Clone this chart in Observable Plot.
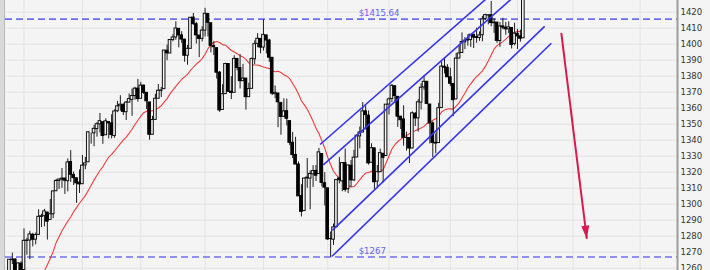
<!DOCTYPE html>
<html><head><meta charset="utf-8">
<script src="https://cdn.jsdelivr.net/npm/d3@7"></script>
<script src="https://cdn.jsdelivr.net/npm/@observablehq/plot@0.6"></script>
<style>
html,body{margin:0;padding:0;background:#f4f4f4;}
#wrap{position:relative;width:710px;height:270px;overflow:hidden;background:#f4f4f4;}
#wrap svg{display:block;}
#strip{position:absolute;left:0;top:0;width:4px;height:270px;background:#d9d9d9;border-right:1px solid #b9b9b9;z-index:2;}
</style></head><body><div id="wrap"><div id="strip"></div></div>
<script>
// Daily bars, 1 Dec 2011 .. 6 Sep 2012 (session 0 = 3 Jan 2012)
const firstSession = -21;
const open = [
1246.0,1246.0,1249.8,1257.2,1258.1,1260.9,1234.5,1255.1,1236.8,1225.7,1212.1,1216.1,1219.7,1205.7,1241.3,1243.7,1254.0,1265.0,1265.4,1249.8,1262.8,
1258.9,1277.0,1277.3,1280.9,1277.8,1280.8,1292.0,1292.5,1294.8,1290.2,1293.7,1308.1,1314.5,1315.3,1316.0,1314.4,1326.3,1318.3,1316.2,1313.5,
1312.5,1324.2,1326.2,1344.3,1344.3,1347.0,1349.9,1351.2,1343.1,1351.3,1350.5,1342.6,1358.1,1361.2,1362.1,1357.5,1363.5,1365.2,1367.6,1372.2,
1365.9,1374.1,1369.6,1363.6,1343.4,1352.7,1365.9,1370.8,1371.9,1395.9,1394.2,1402.6,1404.2,1409.6,1405.5,1402.9,1392.8,1397.1,1416.6,1412.5,1405.4,1403.3,
1408.5,1418.9,1413.1,1398.8,1397.5,1382.2,1358.9,1368.8,1387.6,1370.3,1369.6,1390.8,1385.1,1376.9,1378.5,1366.9,1372.1,1390.6,1400.2,1403.3,
1397.9,1405.5,1402.3,1391.5,1368.8,1369.2,1363.2,1354.6,1358.1,1351.9,1338.4,1330.8,1324.8,1305.1,1295.7,1316.1,1316.0,1318.7,1320.8,1318.9,1331.3,1313.1,
1309.9,1278.3,1277.8,1285.6,1316.1,1314.3,1325.7,1309.4,1324.0,1314.9,1329.2,1342.4,1344.8,1358.0,1355.4,1325.9,1334.9,1314.1,1320.0,1331.5,1330.1,
1362.3,1365.8,1373.7,1367.1,1354.7,1353.0,1341.4,1341.4,1334.8,1356.5,1353.7,1363.5,1373.0,1376.5,1362.3,1350.5,1338.4,1338.2,1360.1,1385.9,1385.3,
1379.3,1375.1,1365.5,1391.0,1394.5,1401.2,1402.3,1402.6,1405.9,1404.4,1403.9,1405.6,1415.8,1417.9,1418.1,1413.1,1413.5,1402.0,1411.1,1410.4,1409.3,1410.1,1400.1,
1406.5,1404.9,1403.7];
const high = [
1251.1,1260.1,1266.7,1266.0,1267.1,1260.9,1258.3,1255.1,1249.9,1225.7,1225.6,1231.0,1224.6,1242.8,1245.1,1255.2,1265.4,1269.4,1265.9,1263.5,1264.1,
1284.6,1278.7,1283.1,1281.8,1282.0,1296.5,1293.8,1296.8,1294.8,1303.0,1308.1,1315.5,1315.4,1322.3,1316.0,1328.3,1333.5,1320.1,1316.2,1321.4,
1330.5,1329.2,1345.3,1344.4,1349.2,1351.0,1356.7,1351.2,1353.4,1351.3,1355.9,1359.0,1364.2,1367.8,1362.7,1364.2,1368.9,1371.9,1373.1,1378.0,
1376.2,1374.5,1369.6,1363.6,1354.9,1368.7,1374.8,1373.0,1396.1,1399.4,1402.6,1405.9,1414.0,1409.6,1407.8,1402.9,1399.2,1416.6,1419.2,1413.7,1405.4,1410.9,
1422.4,1419.1,1413.1,1401.6,1397.5,1383.0,1374.7,1388.1,1387.6,1379.7,1392.8,1390.8,1393.5,1387.4,1378.5,1375.6,1391.4,1402.1,1406.6,1403.3,
1415.3,1405.5,1403.1,1391.5,1373.9,1369.2,1363.7,1365.9,1365.7,1351.9,1344.9,1341.8,1326.4,1312.2,1316.4,1328.5,1320.7,1324.1,1324.2,1334.9,1331.3,1319.7,
1309.9,1282.6,1287.6,1315.1,1329.1,1325.8,1334.5,1324.3,1327.3,1333.7,1343.3,1348.2,1363.5,1361.6,1358.3,1337.8,1334.9,1324.2,1334.4,1331.5,1362.2,
1366.4,1374.8,1373.9,1367.1,1354.9,1361.5,1345.0,1341.4,1357.7,1357.3,1365.4,1375.3,1380.4,1376.5,1362.3,1351.5,1344.0,1363.1,1389.2,1391.7,1387.2,
1385.0,1375.1,1394.2,1399.6,1407.1,1404.1,1405.9,1406.0,1405.9,1410.0,1407.7,1417.4,1418.7,1418.1,1426.7,1416.1,1413.5,1413.5,1416.2,1413.6,1414.0,1410.1,1413.1,
1409.3,1408.8,1432.1];
const low = [
1239.7,1243.4,1249.8,1253.0,1244.8,1231.5,1234.5,1227.3,1219.4,1209.5,1212.1,1215.2,1202.4,1205.7,1229.5,1243.7,1254.0,1262.3,1248.6,1249.8,1257.5,
1258.9,1268.1,1265.3,1273.3,1274.6,1280.8,1285.4,1285.8,1277.6,1290.2,1291.0,1308.1,1309.2,1309.9,1306.1,1307.7,1313.6,1311.7,1300.5,1306.7,
1312.5,1321.6,1326.2,1337.5,1335.9,1341.9,1344.5,1337.4,1343.1,1340.8,1340.8,1341.2,1357.2,1358.1,1355.5,1352.3,1363.5,1354.9,1365.0,1363.8,
1365.9,1368.6,1359.1,1340.0,1343.4,1352.7,1365.9,1366.7,1371.9,1389.7,1394.2,1401.5,1402.4,1397.7,1400.6,1388.7,1386.9,1397.1,1411.9,1400.1,1391.6,1401.4,
1404.5,1404.6,1394.6,1392.9,1378.2,1357.4,1358.9,1368.8,1369.9,1365.4,1369.6,1383.3,1372.0,1376.9,1358.8,1366.8,1372.1,1387.3,1397.8,1394.0,
1395.7,1393.9,1388.7,1367.9,1365.9,1347.8,1343.1,1354.6,1348.9,1336.6,1328.5,1324.8,1304.9,1292.0,1295.7,1310.0,1296.5,1310.5,1314.2,1318.9,1310.8,1298.9,
1277.3,1266.7,1274.2,1285.6,1312.7,1307.8,1307.5,1306.6,1310.5,1314.1,1329.2,1334.6,1344.8,1346.4,1324.4,1325.9,1309.3,1310.3,1320.0,1313.3,1330.1,
1355.7,1363.5,1363.0,1348.0,1346.7,1336.3,1333.2,1325.4,1334.8,1348.5,1345.1,1358.9,1371.2,1362.2,1337.6,1329.2,1331.5,1338.2,1360.1,1381.4,1379.2,
1373.6,1354.7,1365.5,1391.0,1394.5,1396.6,1398.8,1398.0,1397.3,1400.6,1401.8,1401.5,1414.7,1412.1,1410.9,1406.8,1400.5,1398.0,1409.1,1405.6,1406.6,1397.0,1399.0,
1396.6,1401.3,1403.7];
const close = [
1244.6,1244.3,1257.1,1258.5,1261.0,1234.4,1255.2,1236.5,1225.7,1211.8,1215.8,1219.7,1205.4,1241.3,1243.7,1254.0,1265.3,1265.4,1249.6,1263.0,1257.6,
1277.1,1277.3,1281.1,1277.8,1280.7,1292.1,1292.5,1295.5,1289.1,1293.7,1308.0,1314.5,1315.4,1316.0,1314.7,1326.1,1318.4,1316.3,1313.0,1312.4,
1324.1,1325.5,1344.9,1344.3,1347.1,1350.0,1351.9,1342.6,1351.8,1350.5,1343.2,1358.0,1361.2,1362.2,1357.7,1363.5,1365.7,1367.6,1372.2,1365.7,
1374.1,1369.6,1364.3,1343.4,1352.6,1365.9,1370.9,1371.1,1396.0,1394.3,1402.6,1404.2,1409.8,1405.5,1402.9,1392.8,1397.1,1416.5,1412.5,1405.5,1403.3,1408.5,
1419.0,1413.4,1399.0,1398.1,1382.2,1358.6,1368.7,1387.6,1370.3,1369.6,1390.8,1385.1,1376.9,1378.5,1366.9,1372.0,1390.7,1400.0,1403.4,1397.9,
1405.8,1402.3,1391.6,1369.1,1369.6,1363.7,1354.6,1358.0,1353.4,1338.4,1330.7,1324.8,1304.9,1295.2,1316.0,1316.6,1318.9,1320.7,1317.8,1332.4,1313.3,1310.3,
1278.0,1278.2,1285.5,1315.1,1315.0,1325.7,1308.9,1324.2,1314.9,1329.1,1342.8,1344.8,1358.0,1355.7,1325.5,1335.0,1313.7,1320.0,1331.9,1329.0,1362.2,
1365.5,1374.0,1367.6,1354.7,1352.5,1341.5,1341.5,1334.8,1356.8,1353.6,1363.7,1372.8,1376.5,1362.7,1350.5,1338.3,1337.9,1360.0,1386.0,1385.3,1379.3,
1375.3,1365.0,1391.0,1394.2,1401.4,1402.2,1402.8,1405.9,1404.1,1403.9,1405.5,1415.5,1418.2,1418.1,1413.2,1413.5,1402.1,1411.1,1410.4,1409.3,1410.5,1399.5,1406.6,
1404.9,1403.4,1432.1];

// first session of each month (Jan..Nov 2012)
const monthStarts = [0, 20, 40, 62, 82, 104, 125, 146, 169, 188, 211];
const yTicks = [1260,1270,1280,1290,1300,1310,1320,1330,1340,1350,1360,1370,1380,1390,1400,1410,1420];

// horizontal levels
const levelValues = [1415.64, 1267];
const levelLabels = ["$1415.64", "$1267"];
const levelLabelSession = 114.6;

// trend channel lines (session, price)
const chX1 = [101.4, 102.5, 105.6, 105.4];
const chY1 = [1337.3, 1324.6, 1283.6, 1267.3];
const chX2 = [165, 175, 178.3, 180.6];
const chY2 = [1439.1, 1441.3, 1411.1, 1400.6];

// forecast arrow (session, price)
const arrowFrom = [184.0, 1407.1];
const arrowTo = [192.75, 1278.4];

const xDomain = [-6.34, 223.8];
const yDomain = [1258.56, 1427.31];

const bars = close.map((c, k) => ({s: k + firstSession, o: open[k], h: high[k], l: low[k], c}));
const up = bars.filter(d => d.c >= d.o);
const down = bars.filter(d => d.c < d.o);
const levels = levelValues.map((v, k) => ({v, label: levelLabels[k]}));
const channels = chX1.map((x, k) => ({x1: x, y1: chY1[k], x2: chX2[k], y2: chY2[k]}));
const arrow = [{x1: arrowFrom[0], y1: arrowFrom[1], x2: arrowTo[0], y2: arrowTo[1]}];

const arrowHead = {draw(ctx) { ctx.moveTo(0, 0); ctx.lineTo(-4, -13); ctx.lineTo(4, -13); ctx.closePath(); }};

const bw = 0.45;
const chart = Plot.plot({
  width: 710, height: 270,
  marginLeft: 5, marginRight: 33, marginTop: 0, marginBottom: 0,
  style: {background: "transparent", fontFamily: "'DejaVu Sans Condensed','DejaVu Sans',sans-serif", fontSize: "9.5px", color: "#333"},
  x: {domain: xDomain, axis: null},
  y: {domain: yDomain, axis: "right", ticks: yTicks, tickSize: 0, tickPadding: 3, tickFormat: "d", label: null},
  marks: [
    Plot.ruleY(yTicks, {stroke: "#e3e3e3", strokeWidth: 1}),
    Plot.ruleX(monthStarts, {stroke: "#e3e3e3", strokeWidth: 1}),
    Plot.ruleY(levels, {y: "v", stroke: "#5e5ef3", strokeWidth: 1.7, strokeDasharray: "7,4", strokeOpacity: 0.9}),
    Plot.text(levels, {x: () => levelLabelSession, y: "v", text: "label", textAnchor: "start", dy: -6, fill: "#6464ee", fontSize: 9.5}),
    Plot.lineY(bars, Plot.windowY({k: 20, anchor: "end", reduce: "mean"}, {x: "s", y: "c", stroke: "#f23a3a", strokeWidth: 1.1, clip: true})),
    Plot.ruleX(bars, {x: "s", y1: "l", y2: "h", stroke: "#1e1e1e", strokeWidth: 1, clip: true}),
    Plot.rect(up, {x1: d => d.s - bw, x2: d => d.s + bw, y1: "o", y2: "c", fill: "#f4f4f4", stroke: "#111", strokeWidth: 1, clip: true}),
    Plot.rect(down, {x1: d => d.s - bw, x2: d => d.s + bw, y1: "o", y2: "c", fill: "#000", stroke: "#000", strokeWidth: 1, clip: true}),
    Plot.link(channels, {x1: "x1", y1: "y1", x2: "x2", y2: "y2", stroke: "#3434ef", strokeWidth: 1.6, clip: true}),
    Plot.link(arrow, {x1: "x1", y1: "y1", x2: "x2", y2: "y2", stroke: "#d71a50", strokeWidth: 2}),
    Plot.dot(arrow, {x: "x2", y: "y2", symbol: arrowHead, r: 3, fill: "#d71a50", stroke: "none", rotate: -7}),
    Plot.ruleX([xDomain[1]], {stroke: "#9c9c9c", strokeWidth: 2})
  ]
});
document.getElementById("wrap").appendChild(chart);
</script>
</body></html>
